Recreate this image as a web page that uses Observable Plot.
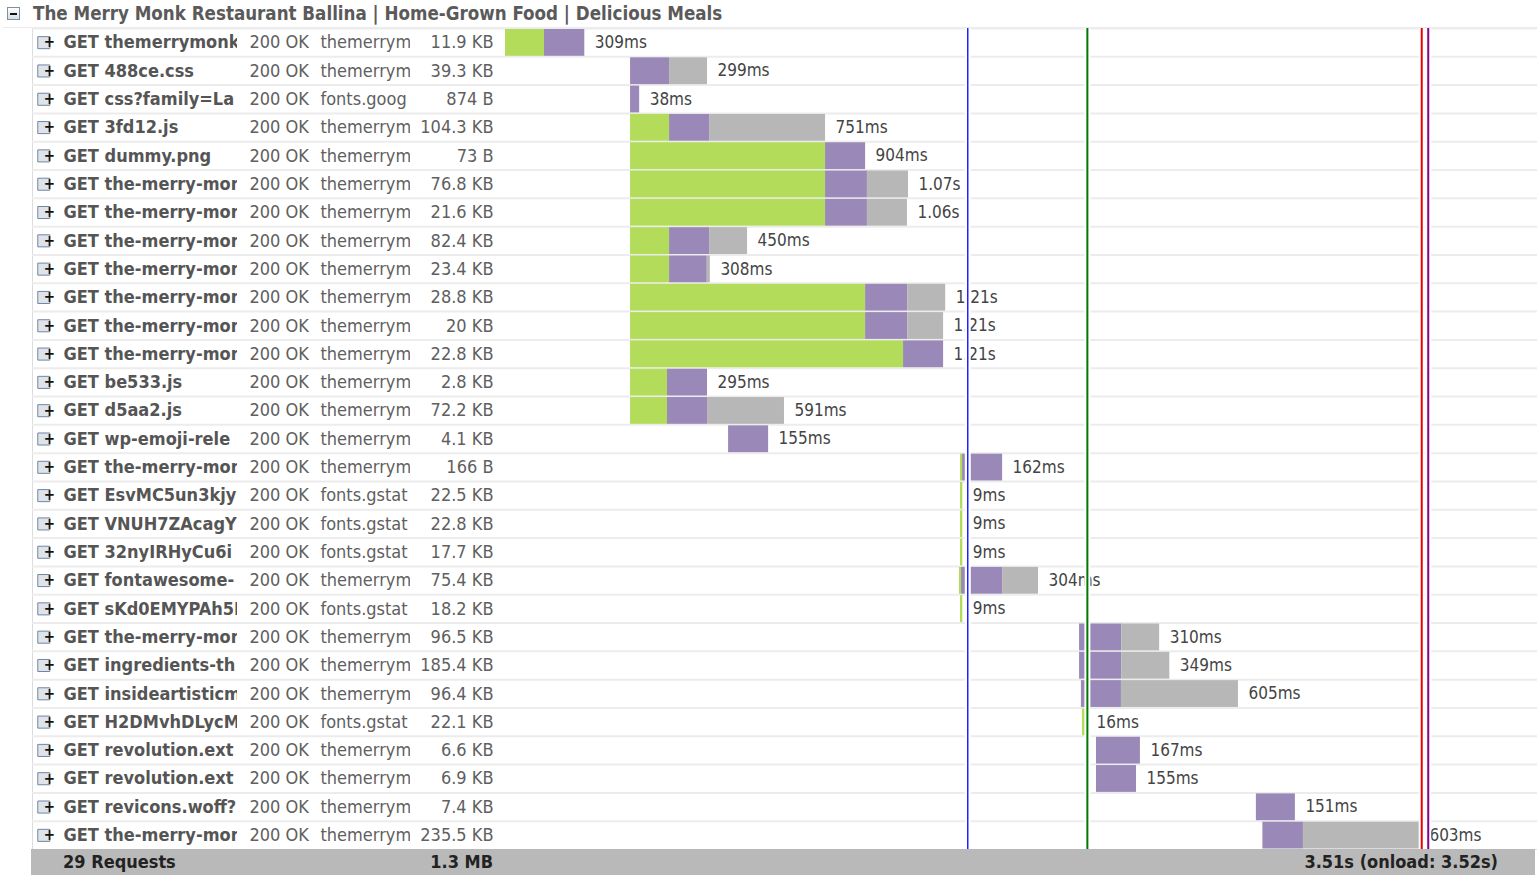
<!DOCTYPE html>
<html>
<head>
<meta charset="utf-8">
<script src="https://cdn.jsdelivr.net/npm/d3@7"></script>
<script src="https://cdn.jsdelivr.net/npm/@observablehq/plot@0.6"></script>
<style>
  html, body { margin: 0; padding: 0; background: #fff; }
  body { width: 1537px; height: 875px; overflow: hidden;
         font-family: "DejaVu Sans Condensed", "DejaVu Sans", sans-serif; font-stretch: condensed; }
  #hdr { position: relative; height: 27px; margin-left: 3px; border-bottom: 1px solid #ececec; }
  #hdr .box { position: absolute; left: 4px; top: 7px; width: 11px; height: 11px;
              border: 1px solid #7f90a3; background: linear-gradient(#ffffff, #d5dce4); }
  #hdr .box::after { content: ""; position: absolute; left: 2px; top: 4.5px; width: 7px; height: 2px; background: #111; }
  #hdr .title { position: absolute; left: 30px; top: 0; line-height: 28px; font-size: 18.6px; font-weight: bold; color: #5a5a5a; white-space: nowrap; }
  #chart svg { display: block; font-family: "DejaVu Sans Condensed", "DejaVu Sans", sans-serif !important; font-stretch: condensed; }
  #ftr { position: relative; height: 26px; margin-left: 31px; width: 1504px; background: #b9b9b9;
         font-size: 18px; font-weight: bold; color: #222; line-height: 26px; white-space: nowrap; }
  #ftr span { position: absolute; top: 0; }
</style>
</head>
<body>
<div id="hdr"><div class="box"></div><div class="title" id="title"></div></div>
<div id="chart"></div>
<div id="ftr"><span id="fReq" style="left:32px"></span><span id="fSize" style="right:1042px"></span><span id="fTime" style="right:37px"></span></div>
<script>
// ---------------- data ----------------
const pageTitle = "The Merry Monk Restaurant Ballina | Home-Grown Food | Delicious Meals";

// request names as far as the truncated column shows them
const names = [
  "GET themerrymonk",
  "GET 488ce.css",
  "GET css?family=La",
  "GET 3fd12.js",
  "GET dummy.png",
  "GET the-merry-mon",
  "GET the-merry-mon",
  "GET the-merry-mon",
  "GET the-merry-mon",
  "GET the-merry-mon",
  "GET the-merry-mon",
  "GET the-merry-mon",
  "GET be533.js",
  "GET d5aa2.js",
  "GET wp-emoji-rele",
  "GET the-merry-mon",
  "GET EsvMC5un3kjy",
  "GET VNUH7ZAcagYl",
  "GET 32nyIRHyCu6i",
  "GET fontawesome-",
  "GET sKd0EMYPAh5I",
  "GET the-merry-mon",
  "GET ingredients-th",
  "GET insideartisticm",
  "GET H2DMvhDLycM",
  "GET revolution.ext",
  "GET revolution.ext",
  "GET revicons.woff?",
  "GET the-merry-mon"
];
const statuses = Array(29).fill("200 OK");
const domains = [
  "themerrym", "themerrym", "fonts.goog", "themerrym", "themerrym",
  "themerrym", "themerrym", "themerrym", "themerrym", "themerrym",
  "themerrym", "themerrym", "themerrym", "themerrym", "themerrym",
  "themerrym", "fonts.gstat", "fonts.gstat", "fonts.gstat", "themerrym",
  "fonts.gstat", "themerrym", "themerrym", "themerrym", "fonts.gstat",
  "themerrym", "themerrym", "themerrym", "themerrym"
];
const sizes = [
  "11.9 KB", "39.3 KB", "874 B", "104.3 KB", "73 B", "76.8 KB", "21.6 KB", "82.4 KB", "23.4 KB", "28.8 KB",
  "20 KB", "22.8 KB", "2.8 KB", "72.2 KB", "4.1 KB", "166 B", "22.5 KB", "22.8 KB", "17.7 KB", "75.4 KB",
  "18.2 KB", "96.5 KB", "185.4 KB", "96.4 KB", "22.1 KB", "6.6 KB", "6.9 KB", "7.4 KB", "235.5 KB"
];
// request timings in ms (start, then consecutive phases)
const starts    = [0, 481, 481, 481, 481, 481, 481, 481, 481, 481, 481, 481, 481, 481, 858,
                   1750, 1750, 1750, 1750, 1746, 1750, 2208, 2208, 2215, 2219, 2273, 2273, 2888, 2913];
const blocked   = [150, 0, 0, 150, 750, 750, 750, 150, 150, 904, 904, 1050, 142, 142, 0,
                   8, 9, 9, 9, 8, 9, 0, 0, 0, 16, 0, 0, 0, 0];
const waiting   = [155, 150, 35, 154, 154, 161, 161, 154, 145, 162, 162, 154, 154, 154, 154,
                   154, 0, 0, 0, 158, 0, 162, 162, 154, 0, 169, 154, 150, 156];
const receiving = [0, 146, 0, 446, 0, 158, 154, 146, 12, 146, 138, 0, 0, 296, 0,
                   0, 0, 0, 0, 138, 0, 146, 185, 450, 0, 0, 0, 0, 446];
const durationLabels = ["309ms", "299ms", "38ms", "751ms", "904ms", "1.07s", "1.06s", "450ms", "308ms", "1.21s",
  "1.21s", "1.21s", "295ms", "591ms", "155ms", "162ms", "9ms", "9ms", "9ms", "304ms",
  "9ms", "310ms", "349ms", "605ms", "16ms", "167ms", "155ms", "151ms", "603ms"];
const phaseNames = ["blocked", "waiting", "receiving"];
const eventNames = ["DOMContentLoaded", "render", "onload", "complete"];
const eventTimes = [1778, 2238, 3524, 3549];
const summaryRequests = "29 Requests";
const summarySize = "1.3 MB";
const summaryTime = "3.51s (onload: 3.52s)";

// ---------------- build ----------------
const rows = d3.range(names.length);
const phaseValues = [blocked, waiting, receiving];
const segs = [];
const ends = [];
rows.forEach(i => {
  let t = starts[i];
  phaseNames.forEach((ph, k) => {
    const d = phaseValues[k][i];
    if (d > 0) { segs.push({row: i, phase: ph, t1: t, t2: t + d}); t += d; }
  });
  ends.push(t);
});
const events = eventNames.map((n, i) => ({name: n, t: eventTimes[i]}));

const font = '"DejaVu Sans Condensed", "DejaVu Sans", sans-serif';
const leftText = (accessor, dx, opts = {}) => Plot.text(rows, {
  y: i => i + 0.5, frameAnchor: "left", dx, text: accessor, textAnchor: "start",
  fontSize: 18, fill: "#606060", ...opts
});

const chart = Plot.plot({
  width: 1537, height: 821,
  marginLeft: 32, marginRight: 0, marginTop: 0, marginBottom: 0,
  x: {domain: [0, 3510], range: [505, 1417.6], axis: null},
  y: {domain: [0, 29], range: [0, 821], axis: null},
  color: {
    domain: [...phaseNames, ...eventNames],
    range: ["#b2dc5a", "#9a89b8", "#b7b7b7", "#0000ff", "#007700", "#ee0000", "#880088"]
  },
  style: {fontFamily: font, background: "white", overflow: "visible"},
  marks: [
    Plot.frame({stroke: "#dcdcdc"}),
    Plot.ruleY(rows, {y: d => d, stroke: "#ececec", strokeWidth: 2}),
    Plot.rect(segs, {x1: "t1", x2: "t2", y1: d => d.row, y2: d => d.row + 1, fill: "phase", insetTop: 1, insetBottom: 0.5}),
    Plot.text(rows, {x: i => ends[i], y: i => i + 0.5, text: i => durationLabels[i], dx: 10, textAnchor: "start", fontSize: 17, fill: "#444"}),
    // expand icons
    Plot.dot(rows, {y: i => i + 0.5, frameAnchor: "left", dx: 11.3, symbol: "square", r: 6.8, fill: "#dfe4ea", stroke: "#7386a0", strokeWidth: 1}),
    Plot.text(rows, {y: i => i + 0.5, frameAnchor: "left", dx: 11.3, text: () => "+", fontSize: 15, fontWeight: "bold", fill: "#111"}),
    leftText(i => names[i], 31, {fontWeight: "bold", fill: "#555"}),
    leftText(i => statuses[i], 217),
    leftText(i => domains[i], 288),
    Plot.text(rows, {y: i => i + 0.5, frameAnchor: "left", dx: 461, text: i => sizes[i], textAnchor: "end", fontSize: 18, fill: "#606060"}),
    // timeline event lines with white halos
    Plot.ruleX(events, {x: "t", stroke: "white", strokeWidth: 6}),
    Plot.ruleX(events.filter(e => e.name === "DOMContentLoaded"), {x: "t", stroke: "name", strokeWidth: 1.3}),
    Plot.ruleX(events.filter(e => e.name !== "DOMContentLoaded"), {x: "t", stroke: "name", strokeWidth: 2})
  ]
});

document.getElementById("chart").appendChild(chart);
document.getElementById("title").textContent = pageTitle;
document.getElementById("fReq").textContent = summaryRequests;
document.getElementById("fSize").textContent = summarySize;
document.getElementById("fTime").textContent = summaryTime;

// clip the truncated columns (find the text groups by their first text)
const defs = d3.select(chart).append("defs");
function clipGroup(firstText, id, x0, x1) {
  defs.append("clipPath").attr("id", id)
    .append("rect").attr("x", x0).attr("y", -5).attr("width", x1 - x0).attr("height", 840);
  const groups = Array.from(chart.querySelectorAll("g")).filter(g => {
    const t = g.querySelector(":scope > text");
    return t && t.textContent === firstText && g.querySelectorAll(":scope > text").length === names.length;
  });
  groups.forEach(g => {
    const wrap = document.createElementNS("http://www.w3.org/2000/svg", "g");
    wrap.setAttribute("clip-path", `url(#${id})`);
    g.parentNode.insertBefore(wrap, g);
    wrap.appendChild(g);
  });
}
clipGroup(names[0], "clipNames", 0, 237);
clipGroup(domains[0], "clipDomains", 300, 410);
</script>
</body>
</html>
